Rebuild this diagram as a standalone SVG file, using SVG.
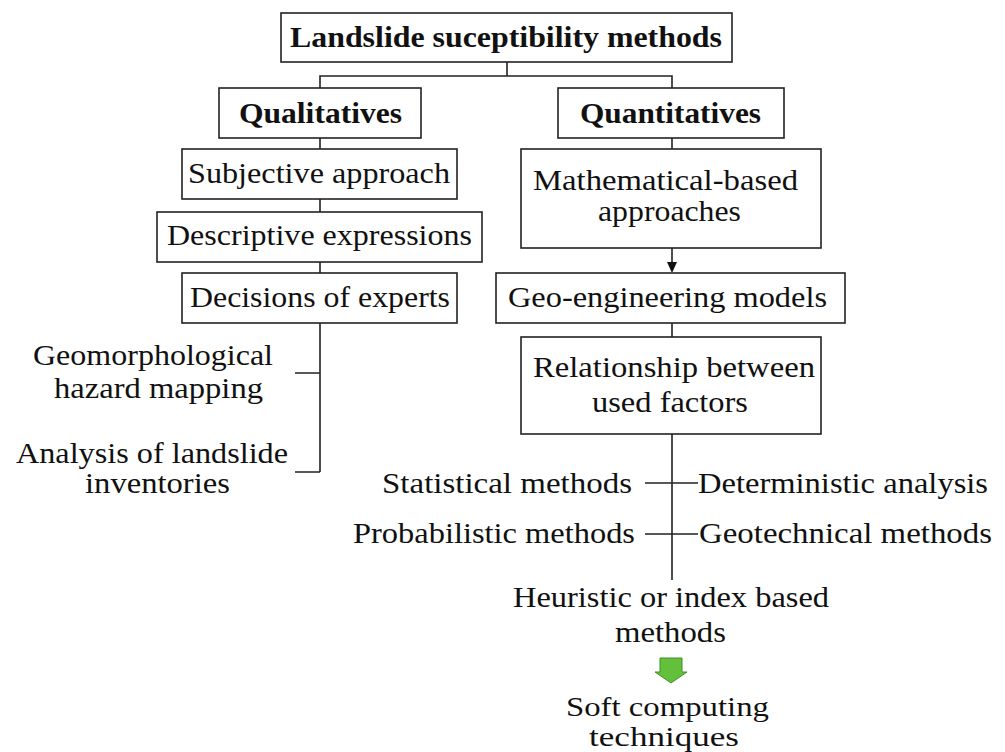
<svg xmlns="http://www.w3.org/2000/svg" width="1005" height="752" viewBox="0 0 1005 752">
<style>
.box{fill:#fff;stroke:#222;stroke-width:1.6}
.ln{fill:none;stroke:#222;stroke-width:1.6}
.t{font-family:'Liberation Serif','Times New Roman',serif;font-size:30px;fill:#111}
.s{font-size:28px}
.b{font-family:'Liberation Serif','Times New Roman',serif;font-size:30px;font-weight:bold;fill:#111}
</style>
<rect width="1005" height="752" fill="#fff"/>
<g id="connectors">
<path class="ln" d="M507,62 V76 M320,88 V76 H672 V88"/>
<path class="ln" d="M320,138 V149 M320,199 V212 M320,262 V273"/>
<path class="ln" d="M320,323 V472 M295,373 H320 M295,472 H320"/>
<path class="ln" d="M672,138 V149"/>
<path class="ln" d="M672,248 V263"/>
<path d="M667,262 L677,262 L672,273 Z" fill="#111"/>
<path class="ln" d="M672,323 V337"/>
<path class="ln" d="M672,434 V580 M645,483 H698 M645,534 H698"/>
<path d="M660,658 H682 V672 H687 L671,683 L655,672 H660 Z" fill="#63c03b" stroke="#3f8f2a" stroke-width="1"/>
</g>
<g id="n-title">
<rect class="box" x="281" y="13" width="451" height="49"/>
<text class="b" x="290" y="47" textLength="432" lengthAdjust="spacingAndGlyphs">Landslide suceptibility methods</text>
</g>
<g id="n-qual">
<rect class="box" x="219" y="88" width="202" height="50"/>
<text class="b" x="239" y="123" textLength="163" lengthAdjust="spacingAndGlyphs">Qualitatives</text>
</g>
<g id="n-quant">
<rect class="box" x="558" y="88" width="226" height="50"/>
<text class="b" x="580" y="123" textLength="181" lengthAdjust="spacingAndGlyphs">Quantitatives</text>
</g>
<g id="n-subjective">
<rect class="box" x="182" y="149" width="275" height="50"/>
<text class="t" x="188" y="183" textLength="262" lengthAdjust="spacingAndGlyphs">Subjective approach</text>
</g>
<g id="n-descriptive">
<rect class="box" x="157" y="212" width="325" height="50"/>
<text class="t" x="167" y="245" textLength="305" lengthAdjust="spacingAndGlyphs">Descriptive expressions</text>
</g>
<g id="n-decisions">
<rect class="box" x="182" y="273" width="275" height="50"/>
<text class="t" x="190" y="307" textLength="260" lengthAdjust="spacingAndGlyphs">Decisions of experts</text>
</g>
<g id="n-math">
<rect class="box" x="521" y="149" width="300" height="99"/>
<text class="t" x="533" y="190" textLength="265" lengthAdjust="spacingAndGlyphs">Mathematical-based</text>
<text class="t" x="598" y="221" textLength="143" lengthAdjust="spacingAndGlyphs">approaches</text>
</g>
<g id="n-geo">
<rect class="box" x="496" y="273" width="349" height="50"/>
<text class="t" x="508" y="307" textLength="319" lengthAdjust="spacingAndGlyphs">Geo-engineering models</text>
</g>
<g id="n-relationship">
<rect class="box" x="521" y="337" width="300" height="97"/>
<text class="t" x="533" y="377" textLength="282" lengthAdjust="spacingAndGlyphs">Relationship between</text>
<text class="t" x="592" y="412" textLength="156" lengthAdjust="spacingAndGlyphs">used factors</text>
</g>
<g id="n-geomorph">
<text class="t" x="33" y="365" textLength="240" lengthAdjust="spacingAndGlyphs">Geomorphological</text>
<text class="t" x="54" y="398" textLength="209" lengthAdjust="spacingAndGlyphs">hazard mapping</text>
</g>
<g id="n-analysis">
<text class="t" x="16" y="463" textLength="272" lengthAdjust="spacingAndGlyphs">Analysis of landslide</text>
<text class="t" x="85" y="493" textLength="145" lengthAdjust="spacingAndGlyphs">inventories</text>
</g>
<g id="n-statistical">
<text class="t" x="382" y="493" textLength="250" lengthAdjust="spacingAndGlyphs">Statistical methods</text>
</g>
<g id="n-probabilistic">
<text class="t" x="353" y="543" textLength="282" lengthAdjust="spacingAndGlyphs">Probabilistic methods</text>
</g>
<g id="n-deterministic">
<text class="t" x="698" y="493" textLength="290" lengthAdjust="spacingAndGlyphs">Deterministic analysis</text>
</g>
<g id="n-geotechnical">
<text class="t" x="699" y="543" textLength="293" lengthAdjust="spacingAndGlyphs">Geotechnical methods</text>
</g>
<g id="n-heuristic">
<text class="t" x="513" y="607" textLength="316" lengthAdjust="spacingAndGlyphs">Heuristic or index based</text>
<text class="t" x="615" y="642" textLength="111" lengthAdjust="spacingAndGlyphs">methods</text>
</g>
<g id="n-soft">
<text class="t s" x="566" y="716" textLength="203" lengthAdjust="spacingAndGlyphs">Soft computing</text>
<text class="t s" x="589" y="746" textLength="150" lengthAdjust="spacingAndGlyphs">techniques</text>
</g>
</svg>
